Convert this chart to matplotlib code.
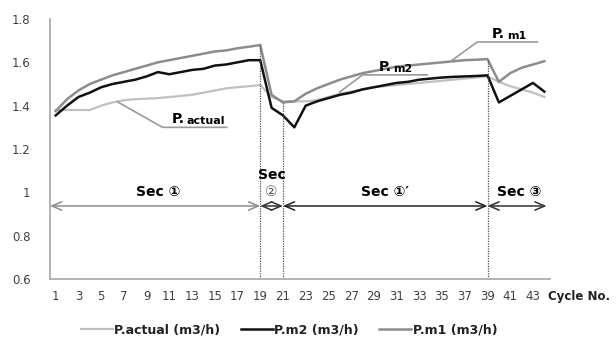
import matplotlib
matplotlib.use("Agg")
import matplotlib.pyplot as plt
import numpy as np

plt.rcParams['font.family'] = ['DejaVu Sans', 'Noto Sans CJK KR']

cycles = list(range(1, 45))
p_actual = [1.38, 1.38, 1.38, 1.38, 1.40, 1.415, 1.425, 1.43, 1.432, 1.435,
            1.44, 1.445, 1.45, 1.46, 1.47, 1.48, 1.485, 1.49, 1.495, 1.44,
            1.42, 1.42, 1.42, 1.425, 1.44, 1.455, 1.465, 1.475, 1.485, 1.49,
            1.495, 1.50, 1.505, 1.51, 1.515, 1.52, 1.525, 1.53, 1.535, 1.51,
            1.49, 1.475, 1.46, 1.44]
p_m2 = [1.355, 1.40, 1.44, 1.46, 1.485, 1.50, 1.51, 1.52, 1.535, 1.555,
        1.545, 1.555, 1.565, 1.57, 1.585, 1.59, 1.60, 1.61, 1.61, 1.39,
        1.355, 1.30, 1.40, 1.42, 1.435, 1.45, 1.46, 1.475, 1.485, 1.495,
        1.505, 1.51, 1.52, 1.525, 1.53, 1.533, 1.535, 1.537, 1.54, 1.415,
        1.445, 1.475, 1.505, 1.465]
p_m1 = [1.375, 1.43, 1.47, 1.50, 1.52, 1.54, 1.555, 1.57, 1.585, 1.60,
        1.61, 1.62, 1.63, 1.64, 1.65, 1.655, 1.665, 1.672, 1.68, 1.45,
        1.415, 1.42, 1.455, 1.48, 1.50, 1.52, 1.535, 1.55, 1.56, 1.57,
        1.58, 1.585, 1.59, 1.595, 1.60, 1.605, 1.61, 1.612, 1.615, 1.51,
        1.55, 1.575, 1.59, 1.605]
series_labels = ['P.actual (m3/h)', 'P.m2 (m3/h)', 'P.m1 (m3/h)']
y_ticks = [0.6, 0.8, 1.0, 1.2, 1.4, 1.6, 1.8]
y_tick_labels = ['0.6', '0.8', '1', '1.2', '1.4', '1.6', '1.8']
x_tick_cycles = list(range(1, 45, 2))
section_bounds = [19, 21, 39]

fig = plt.figure(figsize=(6.16, 3.41), dpi=100)
ax = fig.add_axes([50/616, 62/341, 500/616, 260/341])

c_act, c_m2, c_m1 = '#c0c0c0', '#111111', '#8c8c8c'
ax.plot(cycles, p_actual, color=c_act, lw=1.6, label=series_labels[0])
ax.plot(cycles, p_m2, color=c_m2, lw=1.8, label=series_labels[1])
ax.plot(cycles, p_m1, color=c_m1, lw=1.8, label=series_labels[2])

ax.set_xlim(0.5, 44.5)
ax.set_ylim(0.6, 1.8)
ax.set_yticks(y_ticks)
ax.set_yticklabels(y_tick_labels)
ax.set_xticks(x_tick_cycles)
ax.set_xticklabels([str(c) for c in x_tick_cycles])
ax.tick_params(length=0, labelsize=8.5, colors='#404040', pad=8)
ax.tick_params(axis='y', pad=14)
for s in ['top', 'right']:
    ax.spines[s].set_visible(False)
for s in ['left', 'bottom']:
    ax.spines[s].set_color('#a6a6a6')
    ax.spines[s].set_linewidth(1.2)

ax.annotate('Cycle No.', xy=(44.3, 0), xycoords=('data', 'axes fraction'),
            xytext=(0, -8), textcoords='offset points', fontsize=8.5,
            fontweight='bold', ha='left', va='top', color='#222222',
            annotation_clip=False)

# vertical dotted section boundaries
tops = {19: p_m1[18], 21: p_m1[20], 39: p_m1[38]}
for b in section_bounds:
    ax.plot([b, b], [0.6, tops[b]], color='#555555', lw=0.9, ls=(0, (1, 1)))

# section arrows
y_arr = 0.937
def darrow(x0, x1, color):
    ax.annotate('', xy=(x1, y_arr), xytext=(x0, y_arr),
                arrowprops=dict(arrowstyle='<->,head_length=0.7,head_width=0.3',
                                color=color, lw=1.1, shrinkA=0, shrinkB=0))
darrow(0.5, 19, '#8c8c8c')
darrow(19, 21, '#333333')
darrow(21, 39, '#222222')
darrow(39, 44.2, '#333333')

fs = 10
ax.text(10.0, 1.0, 'Sec ①', fontsize=fs, fontweight='bold', ha='center', va='center')
ax.text(20.0, 1.08, 'Sec', fontsize=fs, fontweight='bold', ha='center', va='center')
ax.text(20.0, 1.003, '②', fontsize=fs, ha='center', va='center', color='#555555')
ax.text(30.0, 1.0, 'Sec ①′', fontsize=fs, fontweight='bold', ha='center', va='center')
ax.text(41.8, 1.0, 'Sec ③', fontsize=fs, fontweight='bold', ha='center', va='center')

# series callouts
def callout(pts, sub, lx, ly):
    xs, ys = zip(*pts)
    ax.plot(xs, ys, color='#9a9a9a', lw=1.2)
    ax.text(lx, ly, 'P.', fontsize=10, fontweight='bold', ha='left', va='bottom')
    ax.text(lx + 1.3, ly, sub, fontsize=8, fontweight='bold', ha='left', va='bottom')

callout([(6.46, 1.417), (10.4, 1.30), (16.05, 1.30)], 'actual', 11.2, 1.305)
callout([(26.0, 1.463), (28.0, 1.542), (33.7, 1.542)], 'm2', 29.4, 1.547)
callout([(35.9, 1.61), (38.1, 1.694), (43.4, 1.694)], 'm1', 39.4, 1.699)

leg = fig.legend(loc='center', bbox_to_anchor=(289/616, 11/341), ncol=3, frameon=False,
                 handlelength=2.6, handletextpad=0.1, columnspacing=1.6,
                 prop={'weight': 'bold', 'size': 9})
for t in leg.get_texts():
    t.set_color('#222222')

fig.savefig('out.png', dpi=100)
